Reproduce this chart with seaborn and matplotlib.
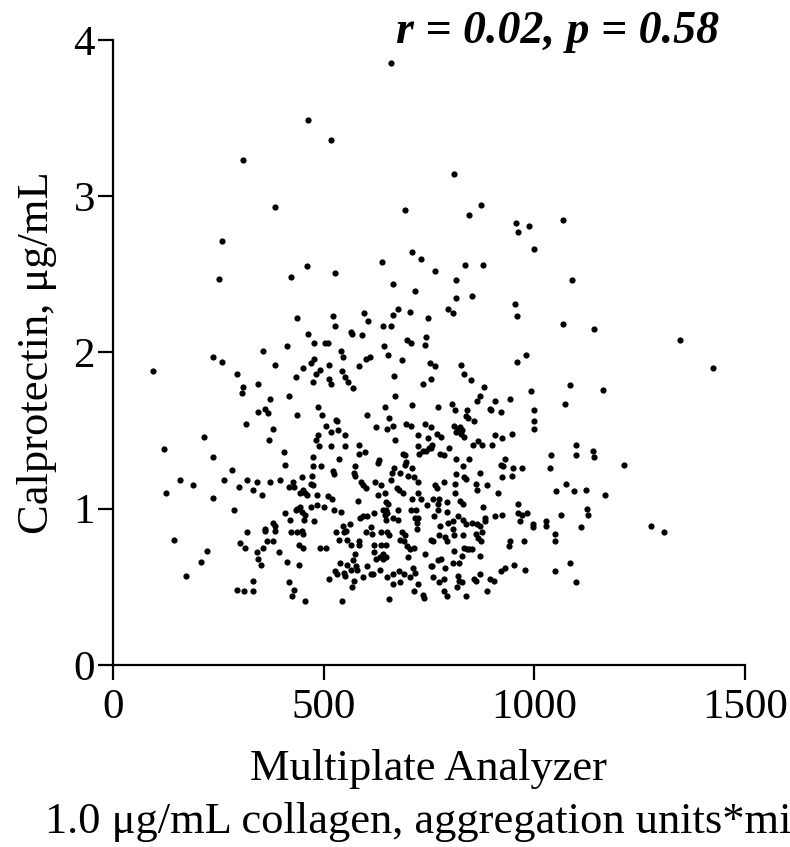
import matplotlib
matplotlib.use("Agg")
import matplotlib.pyplot as plt
import seaborn as sns
import pandas as pd

# Multiplate (AU*min) and calprotectin (ug/mL)
multiplate = [
    309, 385, 258, 252, 423, 437,
    660, 463, 518, 809, 692, 873, 846, 956, 961, 710, 730, 638, 461, 528,
    765, 835, 878, 664, 813, 716, 813, 851, 954, 960, 677, 665, 704, 795,
    806, 748, 522, 526, 596, 605, 565, 567, 590, 640, 661, 464, 699, 744,
    1067, 987, 1000, 1090, 1069, 1142, 1346,
    95, 237, 258, 355, 413, 385, 295, 309, 307, 345, 434, 372, 418, 362,
    367, 344, 437, 316, 379, 370, 215, 122, 237, 405, 409, 283,
    707, 741, 478, 503, 510, 643, 541, 547, 652, 687, 600, 611, 478, 471,
    450, 513, 491, 483, 584, 543, 513, 518, 475, 551, 559, 569, 752, 764,
    668, 756, 737, 825, 832, 849, 881, 958, 872, 863, 906, 943, 894, 897,
    921, 669, 486, 496, 646, 710, 772, 805, 812, 840, 837, 842, 858, 603,
    529, 532, 656, 506, 517, 535, 550, 486, 482, 624, 651, 664, 695, 707,
    740, 755, 769, 779, 669, 724, 748, 810, 818, 824, 829, 813, 827, 833,
    866, 854, 876, 906, 924, 948, 900, 488, 518, 551, 583, 585, 599, 724,
    726, 751, 758, 755, 743, 737, 798, 775, 786, 689, 694, 474, 537, 631,
    628, 695, 692, 813, 844, 930, 921, 926, 474, 494, 574, 667, 709, 831, 950,
    980, 1423, 1085, 1162, 992, 1073, 1000, 1000, 1000, 1098, 1039, 1098,
    1139, 1141, 1214, 1037, 970,
    160, 127, 191, 238, 263, 299, 317, 333, 343, 353, 372, 397, 418, 428,
    430, 288, 409, 436, 434, 421, 380, 385, 385, 362, 360, 317, 423, 436,
    145, 301, 314, 365, 380, 355, 342, 345, 351, 394, 441, 414, 223, 210,
    174, 333, 418, 294, 312, 333, 429, 426, 441,
    523, 524, 571, 574, 662, 681, 700, 715, 813, 833, 839, 870, 924, 948,
    472, 448, 588, 594, 600, 623, 659, 673, 678, 637, 471, 474, 725, 765,
    768, 786, 812, 861, 863, 888, 913, 450, 455, 460, 444, 485, 510, 521,
    581, 630, 645, 648, 653, 689, 725, 709, 731, 760, 774, 771, 793, 811,
    824, 830, 878, 962, 471, 485, 501, 525, 542, 444, 448, 456, 453, 478,
    586, 594, 602, 620, 640, 648, 651, 645, 677, 708, 719, 665, 677, 648,
    717, 724, 721, 722, 746, 763, 771, 792, 818, 796, 807, 831, 837, 853,
    863, 871, 884, 882, 907, 924, 962, 448, 452, 529, 547, 563, 552, 548,
    600, 615, 613, 636, 651, 656, 687, 694, 755, 760, 776, 774, 788, 792,
    806, 809, 831, 862, 866, 874, 876, 942, 939, 537, 555, 566, 585, 583,
    620, 635, 649, 681, 690, 698, 706, 715, 452, 491, 505, 809, 834, 840,
    846, 851, 829, 871, 741, 642, 649, 641, 634, 620, 624, 575, 570, 701,
    756, 771, 778, 789, 808, 822, 540, 555, 564, 576, 579, 528, 531, 549,
    550, 602, 616, 612, 634, 512, 573, 594, 651, 665, 664, 680, 681, 691,
    705, 713, 717, 724, 757, 760, 774, 786, 820, 822, 828, 816, 858, 861,
    872, 895, 905, 922, 930, 952, 567, 715, 737, 739, 786, 792, 839, 888,
    455, 544, 656,
    1075, 1051, 1095, 1122, 1168, 970, 982, 966, 998, 996, 1027, 1027,
    1063, 1125, 1128, 1111, 1049, 1049, 976, 1277, 1307, 1085, 978, 1049, 1098,
]

calprotectin = [
    3.23, 2.93, 2.71, 2.47, 2.48, 2.22,
    3.85, 3.49, 3.36, 3.14, 2.91, 2.94, 2.88, 2.83, 2.77, 2.64, 2.60, 2.58, 2.55, 2.51,
    2.52, 2.56, 2.56, 2.44, 2.46, 2.39, 2.35, 2.36, 2.31, 2.23, 2.28, 2.24, 2.26, 2.28,
    2.25, 2.22, 2.23, 2.17, 2.25, 2.20, 2.13, 2.12, 2.11, 2.17, 2.17, 2.12, 2.08, 2.10,
    2.85, 2.81, 2.66, 2.46, 2.18, 2.15, 2.08,
    1.88, 1.97, 1.94, 2.01, 2.04, 1.92, 1.86, 1.78, 1.74, 1.80, 1.84, 1.70, 1.72, 1.64,
    1.61, 1.62, 1.60, 1.54, 1.51, 1.44, 1.46, 1.38, 1.33, 1.36, 1.28, 1.25,
    2.06, 2.05, 2.06, 2.06, 2.06, 2.04, 2.01, 1.97, 1.98, 1.95, 1.96, 1.97, 1.96, 1.93,
    1.90, 1.92, 1.89, 1.86, 1.91, 1.88, 1.83, 1.80, 1.81, 1.84, 1.81, 1.77, 1.93, 1.91,
    1.85, 1.83, 1.80, 1.92, 1.86, 1.82, 1.78, 1.94, 1.72, 1.69, 1.69, 1.70, 1.64, 1.63,
    1.62, 1.72, 1.65, 1.60, 1.65, 1.66, 1.65, 1.67, 1.63, 1.63, 1.59, 1.58, 1.56, 1.60,
    1.57, 1.56, 1.58, 1.53, 1.49, 1.50, 1.47, 1.47, 1.44, 1.52, 1.51, 1.53, 1.54, 1.53,
    1.54, 1.52, 1.48, 1.46, 1.44, 1.47, 1.45, 1.53, 1.51, 1.52, 1.50, 1.49, 1.48, 1.46,
    1.43, 1.41, 1.41, 1.47, 1.45, 1.48, 1.41, 1.40, 1.40, 1.40, 1.41, 1.35, 1.36, 1.40,
    1.35, 1.39, 1.41, 1.39, 1.37, 1.37, 1.39, 1.35, 1.34, 1.35, 1.34, 1.33, 1.32, 1.31,
    1.29, 1.30, 1.28, 1.32, 1.32, 1.32, 1.28, 1.27, 1.27, 1.27, 1.27, 1.26, 1.26, 1.27, 1.26,
    1.98, 1.90, 1.79, 1.76, 1.75, 1.67, 1.63, 1.56, 1.51, 1.41, 1.34, 1.34,
    1.37, 1.33, 1.28, 1.26, 1.26,
    1.18, 1.10, 1.15, 1.07, 1.18, 1.14, 1.18, 1.12, 1.17, 1.09, 1.17, 1.18, 1.14, 1.17,
    1.14, 0.99, 0.97, 1.00, 0.99, 0.93, 0.91, 0.89, 0.86, 0.87, 0.86, 0.85, 0.85, 0.85,
    0.80, 0.78, 0.75, 0.79, 0.79, 0.75, 0.72, 0.68, 0.64, 0.72, 0.77, 0.66, 0.73, 0.66,
    0.57, 0.54, 0.53, 0.48, 0.47, 0.47, 0.48, 0.44, 0.64,
    1.24, 1.22, 1.23, 1.21, 1.23, 1.23, 1.21, 1.20, 1.22, 1.20, 1.19, 1.23, 1.20, 1.21,
    1.21, 1.20, 1.17, 1.15, 1.13, 1.17, 1.18, 1.13, 1.12, 1.15, 1.16, 1.15, 1.17, 1.15,
    1.13, 1.17, 1.16, 1.16, 1.12, 1.15, 1.10, 1.12, 1.10, 1.09, 1.10, 1.09, 1.08, 1.06,
    1.05, 1.09, 1.10, 1.04, 1.03, 1.10, 1.10, 1.06, 1.06, 1.06, 1.06, 1.03, 1.04, 1.10,
    1.05, 1.03, 1.01, 1.03, 1.01, 1.02, 1.01, 0.99, 0.98, 1.01, 0.98, 0.96, 0.93, 0.92,
    0.94, 0.95, 0.95, 0.97, 0.99, 0.99, 0.97, 0.96, 0.99, 0.99, 0.99, 0.94, 0.93, 0.93,
    0.94, 0.94, 0.91, 0.87, 1.02, 0.95, 0.99, 0.98, 0.95, 0.91, 0.92, 0.93, 0.90, 0.91,
    0.90, 0.89, 0.94, 0.92, 0.95, 0.96, 0.97, 0.86, 0.84, 0.85, 0.89, 0.90, 0.86, 0.85,
    0.85, 0.84, 0.88, 0.85, 0.85, 0.83, 0.85, 0.83, 0.80, 0.79, 0.89, 0.83, 0.82, 0.79,
    0.87, 0.83, 0.83, 0.84, 0.81, 0.79, 0.85, 0.79, 0.76, 0.80, 0.80, 0.77, 0.79, 0.77,
    0.77, 0.77, 0.77, 0.80, 0.79, 0.76, 0.74, 0.75, 0.75, 0.75, 0.75, 0.73, 0.75, 0.74,
    0.74, 0.74, 0.70, 0.70, 0.71, 0.71, 0.69, 0.68, 0.69, 0.72, 0.68, 0.71, 0.67, 0.69,
    0.63, 0.67, 0.68, 0.62, 0.65, 0.65, 0.65, 0.64, 0.61, 0.63, 0.61, 0.60, 0.58, 0.59,
    0.57, 0.63, 0.58, 0.58, 0.61, 0.55, 0.54, 0.56, 0.56, 0.58, 0.52, 0.60, 0.53, 0.58,
    0.56, 0.62, 0.59, 0.52, 0.63, 0.56, 0.53, 0.55, 0.57, 0.54, 0.53, 0.50, 0.55, 0.54,
    0.58, 0.55, 0.54, 0.60, 0.62, 0.64, 0.50, 0.47, 0.45, 0.43, 0.47, 0.44, 0.44, 0.47,
    0.41, 0.41, 0.42,
    1.16, 1.11, 1.11, 1.12, 1.09, 0.96, 0.97, 0.92, 0.90, 0.88, 0.92, 0.89,
    0.96, 1.00, 0.96, 0.88, 0.84, 0.79, 0.79, 0.89, 0.85, 0.65, 0.61, 0.60, 0.53,
]

stat_label = "r = 0.02, p = 0.58"
x_label = "Multiplate Analyzer\n1.0 \u03bcg/mL collagen, aggregation units*min"
y_label = "Calprotectin, \u03bcg/mL"
x_ticks = [0, 500, 1000, 1500]
y_ticks = [0, 1, 2, 3, 4]

df = pd.DataFrame({"multiplate": multiplate, "calprotectin": calprotectin})

sns.set_style("ticks")
plt.rcParams["font.family"] = ["Liberation Serif", "DejaVu Serif"]
plt.rcParams["text.color"] = "black"
plt.rcParams["axes.labelcolor"] = "black"

fig = plt.figure(figsize=(7.9, 8.47), dpi=100)
ax = fig.add_axes([0.143, 0.215, 0.8, 0.738])

sns.scatterplot(data=df, x="multiplate", y="calprotectin", ax=ax,
                color="black", s=20, linewidth=0, legend=False)

ax.set_xlim(0, 1500)
ax.set_ylim(0, 4)
ax.set_xticks(x_ticks)
ax.set_yticks(y_ticks)
ax.tick_params(axis="both", labelsize=31, width=1.6, length=11, color="black",
               labelcolor="black")
ax.tick_params(axis="x", pad=6)
ax.tick_params(axis="y", pad=2)
sns.despine(ax=ax)
for side in ["left", "bottom"]:
    ax.spines[side].set_linewidth(1.6)
    ax.spines[side].set_color("black")

ax.set_xlabel(x_label, fontsize=32, linespacing=1.4, labelpad=16, color="black")
ax.set_ylabel(y_label, fontsize=32, labelpad=12, color="black")

ax.text(0.703, 1.012, stat_label, transform=ax.transAxes, ha="center", va="center",
        fontsize=33, fontweight="bold", fontstyle="italic", color="black")

fig.savefig("out.png", dpi=100)
